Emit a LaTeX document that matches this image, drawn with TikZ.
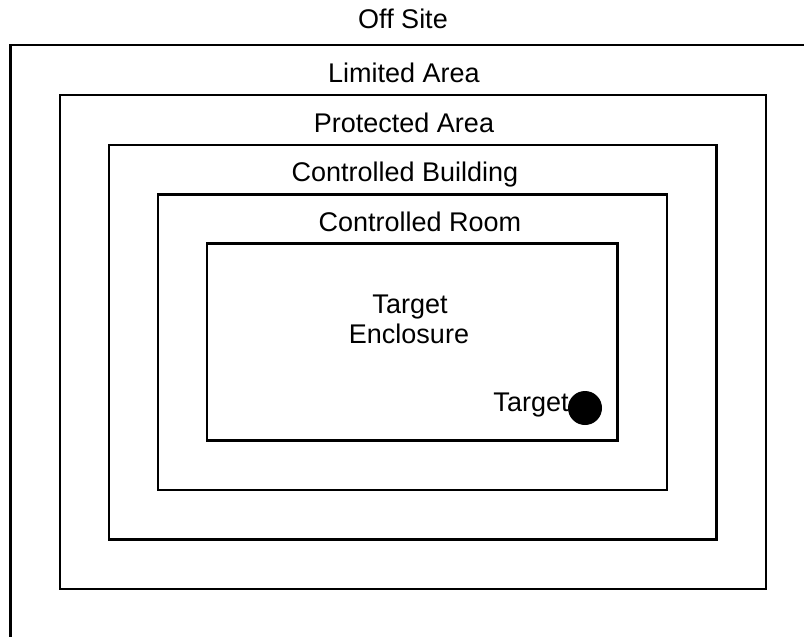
\documentclass[tikz,border=0pt]{standalone}
\usepackage{fontspec}
\setmainfont{Liberation Sans}
\begin{document}
\begin{tikzpicture}[x=1pt,y=-1pt,
  zone/.style={draw=black,line width=2.4pt},
  lbl/.style={font=\fontsize{27}{30}\selectfont,inner sep=0pt,anchor=base}]
\useasboundingbox (0,0) rectangle (804,637);
% outer (Off Site boundary), only top and left visible
\draw[zone] (804,45) -- (10.5,45) -- (10.5,637);
\draw[zone] (60,95) rectangle (766,589);
\draw[zone] (109,145) rectangle (716.5,539.5);
\draw[zone] (158,194.5) rectangle (667,490);
\draw[zone] (207,243.5) rectangle (617.5,440.5);
\node[lbl] (off) at (403,28) {Off Site};
\node[lbl] (lim) at (404,82) {Limited Area};
\node[lbl] (prot) at (404,132) {Protected Area};
\node[lbl] (bld) at (405,181) {Controlled Building};
\node[lbl] (room) at (420,231) {Controlled Room};
\node[lbl] (enc1) at (410,313) {Target};
\node[lbl] (enc2) at (409,343) {Enclosure};
\node[lbl] (tgtlbl) at (531,411) {Target};
\fill[black] (585,408) circle (17);
\end{tikzpicture}
\end{document}
